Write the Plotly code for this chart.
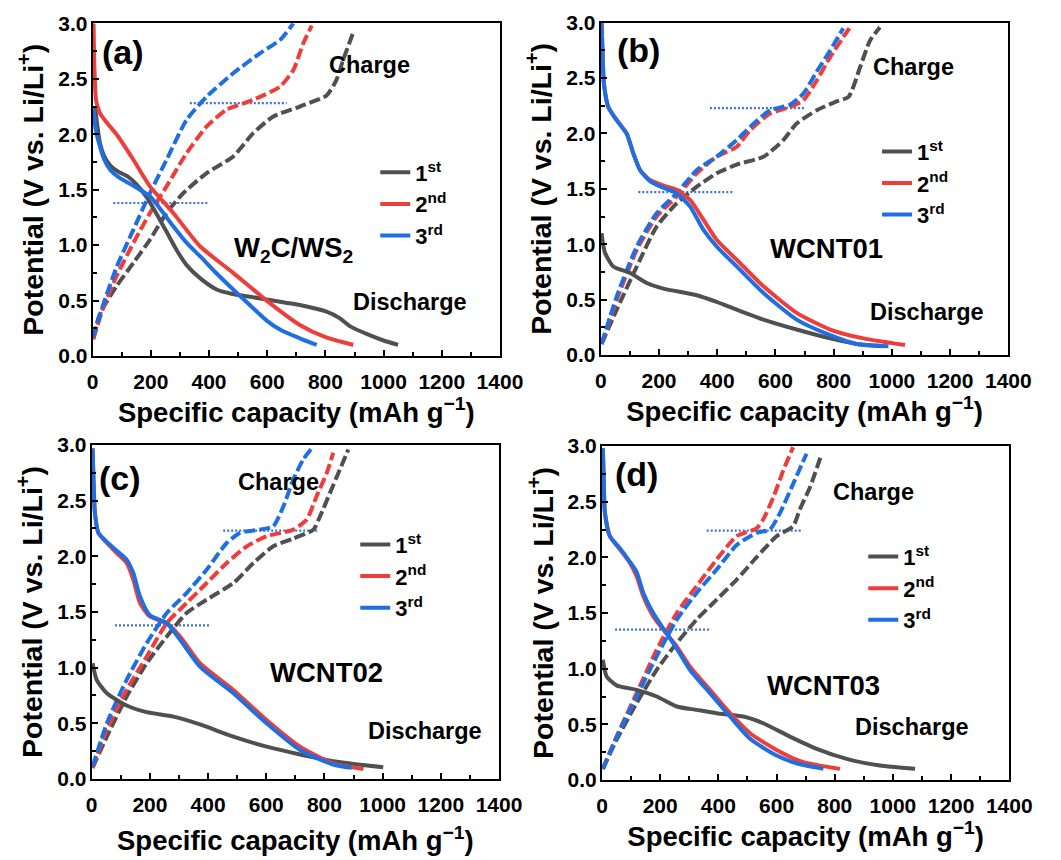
import plotly.graph_objects as go

# ---------------- Panel (a) W2C/WS2 ----------------
A_D1_X = [8, 15, 25, 40, 60, 90, 120, 150, 186, 220, 254, 290, 323, 370, 426, 480, 541, 620, 712, 804, 850, 884, 950, 1000, 1050]
A_D1_V = [2.25, 2.1, 1.92, 1.8, 1.72, 1.66, 1.62, 1.55, 1.43, 1.28, 1.12, 0.95, 0.82, 0.7, 0.6, 0.56, 0.535, 0.5, 0.46, 0.4, 0.34, 0.27, 0.19, 0.14, 0.1]
A_D2_X = [3, 6, 12, 25, 50, 82, 140, 197, 277, 369, 483, 598, 712, 800, 896]
A_D2_V = [3.0, 2.6, 2.3, 2.19, 2.1, 2.0, 1.77, 1.53, 1.29, 0.99, 0.75, 0.5, 0.28, 0.17, 0.1]
A_D3_X = [4, 10, 25, 40, 60, 90, 117, 150, 197, 240, 277, 320, 369, 420, 483, 540, 598, 650, 712, 770]
A_D3_V = [2.22, 2.05, 1.89, 1.77, 1.68, 1.61, 1.57, 1.52, 1.44, 1.3, 1.17, 1.03, 0.9, 0.76, 0.6, 0.46, 0.32, 0.23, 0.16, 0.1]
A_C1_X = [2, 25, 82, 140, 197, 254, 312, 392, 483, 552, 621, 712, 804, 838, 861, 896]
A_C1_V = [0.16, 0.38, 0.63, 0.84, 1.05, 1.29, 1.47, 1.65, 1.8, 2.01, 2.16, 2.25, 2.35, 2.49, 2.67, 2.92]
A_C2_X = [2, 37, 82, 140, 197, 254, 323, 392, 460, 552, 644, 690, 724, 753]
A_C2_V = [0.15, 0.44, 0.72, 1.02, 1.29, 1.53, 1.83, 2.07, 2.22, 2.31, 2.43, 2.58, 2.82, 2.98]
A_C3_X = [2, 37, 82, 140, 197, 254, 323, 392, 483, 575, 644, 690]
A_C3_V = [0.17, 0.47, 0.8, 1.14, 1.47, 1.77, 2.13, 2.34, 2.55, 2.73, 2.85, 3.0]
A_DOT_HI_X, A_DOT_HI_V = [334, 667], [2.28, 2.28]
A_DOT_LO_X, A_DOT_LO_V = [71, 397], [1.38, 1.38]

# ---------------- Panel (b) WCNT01 ----------------
B_D1_X = [3, 8, 15, 43, 101, 158, 215, 330, 398, 467, 559, 673, 788, 879, 970]
B_D1_V = [1.1, 1.0, 0.92, 0.8, 0.74, 0.65, 0.6, 0.54, 0.48, 0.41, 0.32, 0.23, 0.15, 0.1, 0.08]
B_D2_X = [3, 6, 11, 26, 55, 89, 112, 135, 169, 215, 261, 307, 353, 398, 467, 559, 673, 788, 902, 1045]
B_D2_V = [3.0, 2.75, 2.45, 2.24, 2.12, 2.0, 1.82, 1.67, 1.58, 1.53, 1.49, 1.4, 1.22, 1.04, 0.86, 0.62, 0.38, 0.23, 0.15, 0.09]
B_D3_X = [3, 6, 11, 26, 55, 89, 112, 135, 169, 215, 261, 307, 353, 398, 467, 559, 673, 788, 879, 988]
B_D3_V = [3.0, 2.75, 2.45, 2.24, 2.12, 2.0, 1.82, 1.67, 1.57, 1.51, 1.46, 1.34, 1.13, 0.98, 0.8, 0.56, 0.32, 0.18, 0.1, 0.08]
B_C1_X = [3, 55, 124, 192, 261, 330, 398, 467, 559, 627, 673, 742, 810, 851, 891, 925, 959]
B_C1_V = [0.1, 0.41, 0.8, 1.16, 1.37, 1.52, 1.64, 1.72, 1.79, 1.94, 2.09, 2.21, 2.29, 2.33, 2.6, 2.84, 2.96]
B_C2_X = [3, 55, 124, 192, 261, 330, 398, 467, 513, 582, 650, 696, 742, 788, 833, 862]
B_C2_V = [0.1, 0.5, 0.95, 1.25, 1.43, 1.64, 1.79, 1.88, 2.03, 2.18, 2.24, 2.3, 2.48, 2.69, 2.87, 2.98]
B_C3_X = [3, 55, 124, 192, 261, 330, 398, 467, 513, 582, 650, 696, 742, 788, 833]
B_C3_V = [0.1, 0.53, 0.98, 1.28, 1.46, 1.67, 1.79, 1.94, 2.06, 2.21, 2.26, 2.36, 2.56, 2.75, 2.95]
B_DOT_HI_X, B_DOT_HI_V = [375, 702], [2.23, 2.23]
B_DOT_LO_X, B_DOT_LO_V = [129, 456], [1.47, 1.47]

# ---------------- Panel (c) WCNT02 ----------------
C_D1_X = [3, 17, 52, 120, 189, 281, 372, 487, 601, 716, 830, 1002]
C_D1_V = [1.04, 0.89, 0.77, 0.66, 0.6, 0.56, 0.49, 0.38, 0.29, 0.22, 0.16, 0.105]
C_D2_X = [3, 6, 11, 23, 52, 86, 120, 143, 166, 200, 258, 304, 372, 487, 601, 716, 830, 934]
C_D2_V = [2.97, 2.7, 2.39, 2.21, 2.12, 2.03, 1.94, 1.79, 1.58, 1.46, 1.4, 1.28, 1.04, 0.8, 0.53, 0.29, 0.14, 0.09]
C_D3_X = [3, 6, 11, 23, 52, 86, 120, 143, 166, 200, 258, 304, 372, 487, 601, 716, 830, 893]
C_D3_V = [2.97, 2.7, 2.39, 2.21, 2.13, 2.05, 1.97, 1.85, 1.64, 1.47, 1.4, 1.25, 1.01, 0.77, 0.5, 0.26, 0.13, 0.1]
C_C1_X = [3, 52, 120, 189, 258, 326, 395, 487, 556, 624, 693, 762, 785, 819, 853, 882]
C_C1_V = [0.1, 0.38, 0.74, 1.04, 1.28, 1.49, 1.61, 1.76, 1.94, 2.09, 2.16, 2.24, 2.36, 2.57, 2.78, 2.96]
C_C2_X = [3, 52, 120, 189, 258, 326, 395, 464, 533, 601, 693, 739, 773, 808, 830]
C_C2_V = [0.1, 0.44, 0.8, 1.1, 1.4, 1.58, 1.76, 1.94, 2.09, 2.18, 2.24, 2.33, 2.54, 2.75, 2.93]
C_C3_X = [3, 52, 120, 189, 258, 326, 395, 464, 510, 578, 624, 659, 693, 727, 756]
C_C3_V = [0.11, 0.5, 0.89, 1.22, 1.49, 1.67, 1.88, 2.12, 2.21, 2.24, 2.27, 2.45, 2.69, 2.87, 2.97]
C_DOT_HI_X, C_DOT_HI_V = [452, 779], [2.23, 2.23]
C_DOT_LO_X, C_DOT_LO_V = [80, 404], [1.38, 1.38]

# ---------------- Panel (d) WCNT03 ----------------
D_D1_X = [3, 16, 50, 119, 188, 257, 325, 394, 486, 554, 646, 738, 841, 955, 1076]
D_D1_V = [1.08, 0.93, 0.85, 0.81, 0.75, 0.66, 0.63, 0.6, 0.57, 0.51, 0.39, 0.28, 0.19, 0.13, 0.1]
D_D2_X = [3, 6, 10, 27, 62, 96, 119, 142, 176, 211, 257, 302, 371, 440, 509, 600, 692, 818]
D_D2_V = [2.98, 2.7, 2.4, 2.19, 2.07, 1.95, 1.83, 1.65, 1.47, 1.35, 1.2, 1.02, 0.81, 0.6, 0.42, 0.27, 0.16, 0.1]
D_D3_X = [3, 6, 10, 27, 62, 96, 119, 142, 176, 211, 257, 302, 371, 440, 509, 600, 669, 761]
D_D3_V = [2.98, 2.7, 2.4, 2.19, 2.08, 1.96, 1.87, 1.68, 1.5, 1.36, 1.18, 0.99, 0.78, 0.57, 0.37, 0.22, 0.15, 0.1]
D_C1_X = [3, 50, 119, 188, 257, 325, 394, 463, 531, 600, 657, 680, 715, 755]
D_C1_V = [0.1, 0.36, 0.69, 0.99, 1.23, 1.44, 1.62, 1.8, 2.0, 2.19, 2.28, 2.43, 2.63, 2.93]
D_C2_X = [3, 50, 119, 188, 257, 325, 394, 463, 531, 554, 589, 623, 657]
D_C2_V = [0.1, 0.39, 0.78, 1.17, 1.5, 1.74, 1.98, 2.19, 2.26, 2.34, 2.54, 2.78, 2.99]
D_C3_X = [3, 50, 119, 188, 257, 325, 394, 463, 531, 577, 612, 657, 703]
D_C3_V = [0.1, 0.38, 0.75, 1.11, 1.44, 1.68, 1.89, 2.11, 2.22, 2.25, 2.4, 2.66, 2.93]
D_DOT_HI_X, D_DOT_HI_V = [360, 686], [2.24, 2.24]
D_DOT_LO_X, D_DOT_LO_V = [45, 371], [1.35, 1.35]

CYCLE_NAMES = ["1<sup>st</sup>", "2<sup>nd</sup>", "3<sup>rd</sup>"]
SAMPLE_LABELS = ["W<sub>2</sub>C/WS<sub>2</sub>", "WCNT01", "WCNT02", "WCNT03"]
PANEL_LABELS = ["(a)", "(b)", "(c)", "(d)"]
X_TICKS = [0, 200, 400, 600, 800, 1000, 1200, 1400]
Y_TICKS = [0.0, 0.5, 1.0, 1.5, 2.0, 2.5, 3.0]

COLORS = ["#505050", "#EE3E3B", "#1F6FE2"]
DOT_COLOR = "#3A72E0"
FONT = "Arial, 'Liberation Sans', sans-serif"

panels = [
    dict(d=[(A_D1_X, A_D1_V), (A_D2_X, A_D2_V), (A_D3_X, A_D3_V)],
         c=[(A_C1_X, A_C1_V), (A_C2_X, A_C2_V), (A_C3_X, A_C3_V)],
         dots=[(A_DOT_HI_X, A_DOT_HI_V), (A_DOT_LO_X, A_DOT_LO_V)],
         xdom=[0.0804, 0.4672], ydom=[0.5915, 0.9820], xstand=4,
         lab=(105, 2.74), chg=(953, 2.62), samp=(690, 0.96), dis=(1090, 0.49),
         leg=(0.3488, 0.8316)),
    dict(d=[(B_D1_X, B_D1_V), (B_D2_X, B_D2_V), (B_D3_X, B_D3_V)],
         c=[(B_C1_X, B_C1_V), (B_C2_X, B_C2_V), (B_C3_X, B_C3_V)],
         dots=[(B_DOT_HI_X, B_DOT_HI_V), (B_DOT_LO_X, B_DOT_LO_V)],
         xdom=[0.5629, 0.9500], ydom=[0.5927, 0.9827], xstand=10,
         lab=(129, 2.75), chg=(1074, 2.6), samp=(776, 0.96), dis=(1119, 0.39),
         leg=(0.8253, 0.8561)),
    dict(d=[(C_D1_X, C_D1_V), (C_D2_X, C_D2_V), (C_D3_X, C_D3_V)],
         c=[(C_C1_X, C_C1_V), (C_C2_X, C_C2_V), (C_C3_X, C_C3_V)],
         dots=[(C_DOT_HI_X, C_DOT_HI_V), (C_DOT_LO_X, C_DOT_LO_V)],
         xdom=[0.0795, 0.4663], ydom=[0.0951, 0.4871], xstand=16,
         lab=(97, 2.7), chg=(641, 2.67), samp=(808, 0.96), dis=(1145, 0.43),
         leg=(0.3298, 0.3948)),
    dict(d=[(D_D1_X, D_D1_V), (D_D2_X, D_D2_V), (D_D3_X, D_D3_V)],
         c=[(D_C1_X, D_C1_V), (D_C2_X, D_C2_V), (D_C3_X, D_C3_V)],
         dots=[(D_DOT_HI_X, D_DOT_HI_V), (D_DOT_LO_X, D_DOT_LO_V)],
         xdom=[0.5641, 0.9509], ydom=[0.0939, 0.4859], xstand=10,
         lab=(119, 2.75), chg=(932, 2.59), samp=(761, 0.85), dis=(1064, 0.48),
         leg=(0.8122, 0.3806)),
]

fig = go.Figure()
annotations = []
layout = {}

for i, p in enumerate(panels):
    n = "" if i == 0 else str(i + 1)
    xa, ya = "x" + n, "y" + n
    legname = "legend" + n
    for (dx, dv) in p["dots"]:
        fig.add_trace(go.Scatter(x=dx, y=dv, xaxis=xa, yaxis=ya, mode="lines",
                                 line=dict(color=DOT_COLOR, width=2.2, dash="2px,2px"),
                                 showlegend=False, hoverinfo="skip"))
    for k, (cx, cv) in enumerate(p["c"]):
        fig.add_trace(go.Scatter(x=cx, y=cv, xaxis=xa, yaxis=ya, mode="lines",
                                 line=dict(color=COLORS[k], width=4, dash="11px,4px",
                                           shape="spline", smoothing=0.6),
                                 showlegend=False))
    for k, (dx, dv) in enumerate(p["d"]):
        fig.add_trace(go.Scatter(x=dx, y=dv, xaxis=xa, yaxis=ya, mode="lines",
                                 name=CYCLE_NAMES[k], legend=legname,
                                 line=dict(color=COLORS[k], width=4,
                                           shape="spline", smoothing=0.6)))

    axis_common = dict(showline=True, linewidth=2, linecolor="black", mirror=True,
                       showgrid=False, zeroline=False, ticks="inside", ticklen=6,
                       tickwidth=1.5, tickcolor="black", automargin=False,
                       tickfont=dict(family=FONT, size=21, color="black", weight="bold"))
    layout["xaxis" + n] = dict(axis_common, domain=p["xdom"], anchor=ya, range=[0, 1400],
                               tickvals=X_TICKS, ticklabelstandoff=6,
                               minor=dict(dtick=100, ticks="inside", ticklen=4, tickcolor="black", tickwidth=1.5),
                               title=dict(text="Specific capacity (mAh g<sup>\u22121</sup>)",
                                          font=dict(family=FONT, size=27.5, color="black", weight="bold"),
                                          standoff=p["xstand"]))
    layout["yaxis" + n] = dict(axis_common, domain=p["ydom"], anchor=xa, range=[0, 3],
                               tickvals=Y_TICKS, tickformat=".1f", ticklabelstandoff=-1,
                               minor=dict(dtick=0.25, ticks="inside", ticklen=4, tickcolor="black", tickwidth=1.5),
                               title=dict(text="Potential (V vs. Li/Li<sup>+</sup>)",
                                          font=dict(family=FONT, size=28.5, color="black", weight="bold"),
                                          standoff=6))
    layout[legname] = dict(x=p["leg"][0], y=p["leg"][1], xanchor="left", yanchor="top",
                           bgcolor="rgba(0,0,0,0)", tracegroupgap=0,
                           font=dict(family=FONT, size=22, color="black", weight="bold"))

    def ann(txt, pos, size):
        annotations.append(dict(text=txt, x=pos[0], y=pos[1], xref=xa, yref=ya,
                                showarrow=False,
                                font=dict(family=FONT, size=size, color="black", weight="bold")))
    ann(PANEL_LABELS[i], p["lab"], 34)
    ann("Charge", p["chg"], 23.5)
    ann(SAMPLE_LABELS[i], p["samp"], 27.5)
    ann("Discharge", p["dis"], 23.5)

fig.update_layout(**layout)
# page body keeps an 8px margin, so the figure is 16px smaller than the window
fig.update_layout(width=1053, height=852,
                  margin=dict(l=0, r=0, t=0, b=0, pad=0, autoexpand=False),
                  plot_bgcolor="white", paper_bgcolor="white",
                  annotations=annotations, showlegend=True)

fig.write_html("out.html")
